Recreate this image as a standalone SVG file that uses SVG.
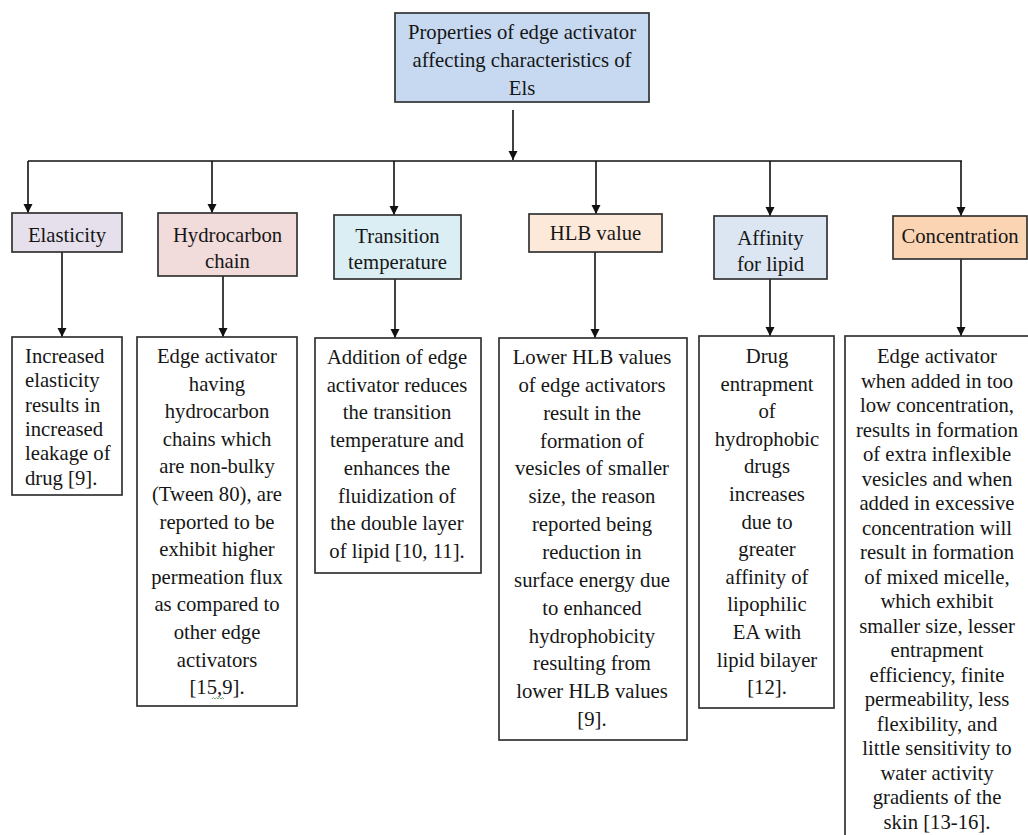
<svg xmlns="http://www.w3.org/2000/svg" width="1028" height="835" viewBox="0 0 1028 835" font-family="'Liberation Serif', 'DejaVu Serif', serif">
  <defs>
    <marker id="arrow" markerUnits="userSpaceOnUse" markerWidth="10" markerHeight="10" refX="9" refY="4.5" orient="auto">
      <path d="M0,0 L9,4.5 L0,9 z" fill="#111"/>
    </marker>
    <style>
      .t { font-family: 'Liberation Serif', 'DejaVu Serif', serif; font-size: 20.7px; fill: #161616; }
      .c { text-anchor: middle; }
      .box { stroke: #333; stroke-width: 1.7; }
      .plain { fill: #ffffff; }
      .link { stroke: #111; stroke-width: 1.6; fill: none; }
      .arr { marker-end: url(#arrow); }
    </style>
  </defs>
  <rect width="1028" height="835" fill="#ffffff"/>

  <!-- connectors -->
  <g id="connectors">
    <line class="link arr" x1="513" y1="110" x2="513" y2="160"/>
    <line class="link" x1="28" y1="161" x2="962" y2="161"/>
    <line class="link arr" x1="28" y1="161" x2="28" y2="213"/>
    <line class="link arr" x1="212" y1="161" x2="212" y2="213"/>
    <line class="link arr" x1="394" y1="161" x2="394" y2="215"/>
    <line class="link arr" x1="596" y1="161" x2="596" y2="214"/>
    <line class="link arr" x1="770" y1="161" x2="770" y2="216"/>
    <line class="link arr" x1="961" y1="161" x2="961" y2="216"/>
    <line class="link arr" x1="62" y1="252" x2="62" y2="337"/>
    <line class="link arr" x1="223" y1="276" x2="223" y2="337"/>
    <line class="link arr" x1="395" y1="279" x2="395" y2="338"/>
    <line class="link arr" x1="595" y1="252" x2="595" y2="338"/>
    <line class="link arr" x1="770" y1="279" x2="770" y2="336"/>
    <line class="link arr" x1="961" y1="259" x2="961" y2="336"/>
  </g>

  <!-- root -->
  <g id="root">
    <rect class="box" x="395" y="13" width="254" height="89" fill="#c6d9f1"/>
    <text class="t c" x="522" y="39">Properties of edge activator</text>
    <text class="t c" x="522" y="67">affecting characteristics of</text>
    <text class="t c" x="522" y="95">Els</text>
  </g>

  <!-- property labels -->
  <g id="elasticity">
    <rect class="box" x="12" y="213" width="110" height="39" fill="#e5e0ec"/>
    <text class="t c" x="67" y="242">Elasticity</text>
  </g>
  <g id="hydrocarbon-chain">
    <rect class="box" x="158" y="213" width="139" height="63" fill="#f2dcdb"/>
    <text class="t c" x="227.5" y="242">Hydrocarbon</text>
    <text class="t c" x="227.5" y="268">chain</text>
  </g>
  <g id="transition-temperature">
    <rect class="box" x="334" y="215" width="127" height="64" fill="#daeef3"/>
    <text class="t c" x="397.5" y="243">Transition</text>
    <text class="t c" x="397.5" y="269">temperature</text>
  </g>
  <g id="hlb-value">
    <rect class="box" x="529" y="214" width="133" height="38" fill="#fde9d9"/>
    <text class="t c" x="595.5" y="240">HLB value</text>
  </g>
  <g id="affinity-for-lipid">
    <rect class="box" x="714" y="216" width="113" height="63" fill="#dce6f2"/>
    <text class="t c" x="770.5" y="245">Affinity</text>
    <text class="t c" x="770.5" y="271">for lipid</text>
  </g>
  <g id="concentration">
    <rect class="box" x="893" y="216" width="134" height="43" fill="#fbd4b4"/>
    <text class="t c" x="960" y="243">Concentration</text>
  </g>

  <!-- descriptions -->
  <g id="elasticity-desc">
    <rect class="box plain" x="12" y="337" width="110" height="158"/>
    <text class="t" x="25" y="363">Increased</text>
    <text class="t" x="25" y="387">elasticity</text>
    <text class="t" x="25" y="412">results in</text>
    <text class="t" x="25" y="436">increased</text>
    <text class="t" x="25" y="460">leakage of</text>
    <text class="t" x="25" y="485">drug [9].</text>
  </g>

  <g id="hydrocarbon-desc">
    <rect class="box plain" x="137" y="337" width="160" height="369"/>
    <text class="t c" x="217" y="363">Edge activator</text>
    <text class="t c" x="217" y="390.6">having</text>
    <text class="t c" x="217" y="418.2">hydrocarbon</text>
    <text class="t c" x="217" y="445.8">chains which</text>
    <text class="t c" x="217" y="473.4">are non-bulky</text>
    <text class="t c" x="217" y="501">(Tween 80), are</text>
    <text class="t c" x="217" y="528.6">reported to be</text>
    <text class="t c" x="217" y="556.2">exhibit higher</text>
    <text class="t c" x="217" y="583.8">permeation flux</text>
    <text class="t c" x="217" y="611.4">as compared to</text>
    <text class="t c" x="217" y="639">other edge</text>
    <text class="t c" x="217" y="666.6">activators</text>
    <text class="t c" x="217" y="694.2">[15,9].</text>
    <path d="M212,699 l1.5,-1.5 l1.5,1.5 l1.5,-1.5 l1.5,1.5 l1.5,-1.5 l1.5,1.5 l1.5,-1.5 l1.5,1.5" fill="none" stroke="#5a9e5a" stroke-width="0.8"/>
  </g>

  <g id="transition-desc">
    <rect class="box plain" x="315" y="338" width="166" height="235"/>
    <text class="t c" x="397" y="364">Addition of edge</text>
    <text class="t c" x="397" y="391.7">activator reduces</text>
    <text class="t c" x="397" y="419.4">the transition</text>
    <text class="t c" x="397" y="447.1">temperature and</text>
    <text class="t c" x="397" y="474.8">enhances the</text>
    <text class="t c" x="397" y="502.5">fluidization of</text>
    <text class="t c" x="397" y="530.2">the double layer</text>
    <text class="t c" x="397" y="557.9">of lipid [10, 11].</text>
  </g>

  <g id="hlb-desc">
    <rect class="box plain" x="499" y="338" width="188" height="402"/>
    <text class="t c" x="592" y="364">Lower HLB values</text>
    <text class="t c" x="592" y="391.8">of edge activators</text>
    <text class="t c" x="592" y="419.7">result in the</text>
    <text class="t c" x="592" y="447.5">formation of</text>
    <text class="t c" x="592" y="475.4">vesicles of smaller</text>
    <text class="t c" x="592" y="503.2">size, the reason</text>
    <text class="t c" x="592" y="531.1">reported being</text>
    <text class="t c" x="592" y="558.9">reduction in</text>
    <text class="t c" x="592" y="586.8">surface energy due</text>
    <text class="t c" x="592" y="614.6">to enhanced</text>
    <text class="t c" x="592" y="642.5">hydrophobicity</text>
    <text class="t c" x="592" y="670.3">resulting from</text>
    <text class="t c" x="592" y="698.2">lower HLB values</text>
    <text class="t c" x="592" y="726">[9].</text>
  </g>

  <g id="affinity-desc">
    <rect class="box plain" x="699" y="336" width="135" height="372"/>
    <text class="t c" x="767" y="363">Drug</text>
    <text class="t c" x="767" y="390.6">entrapment</text>
    <text class="t c" x="767" y="418.2">of</text>
    <text class="t c" x="767" y="445.8">hydrophobic</text>
    <text class="t c" x="767" y="473.4">drugs</text>
    <text class="t c" x="767" y="501">increases</text>
    <text class="t c" x="767" y="528.6">due to</text>
    <text class="t c" x="767" y="556.2">greater</text>
    <text class="t c" x="767" y="583.8">affinity of</text>
    <text class="t c" x="767" y="611.4">lipophilic</text>
    <text class="t c" x="767" y="639">EA with</text>
    <text class="t c" x="767" y="666.6">lipid bilayer</text>
    <text class="t c" x="767" y="694.2">[12].</text>
  </g>

  <g id="concentration-desc">
    <rect class="box plain" x="845" y="336" width="190" height="510"/>
    <text class="t c" x="937" y="363">Edge activator</text>
    <text class="t c" x="937" y="387.5">when added in too</text>
    <text class="t c" x="937" y="412">low concentration,</text>
    <text class="t c" x="937" y="436.5">results in formation</text>
    <text class="t c" x="937" y="461">of extra inflexible</text>
    <text class="t c" x="937" y="485.5">vesicles and when</text>
    <text class="t c" x="937" y="510">added in excessive</text>
    <text class="t c" x="937" y="534.5">concentration will</text>
    <text class="t c" x="937" y="559">result in formation</text>
    <text class="t c" x="937" y="583.5">of mixed micelle,</text>
    <text class="t c" x="937" y="608">which exhibit</text>
    <text class="t c" x="937" y="632.5">smaller size, lesser</text>
    <text class="t c" x="937" y="657">entrapment</text>
    <text class="t c" x="937" y="681.5">efficiency, finite</text>
    <text class="t c" x="937" y="706">permeability, less</text>
    <text class="t c" x="937" y="730.5">flexibility, and</text>
    <text class="t c" x="937" y="755">little sensitivity to</text>
    <text class="t c" x="937" y="779.5">water activity</text>
    <text class="t c" x="937" y="804">gradients of the</text>
    <text class="t c" x="937" y="828.5">skin [13-16].</text>
  </g>
</svg>
